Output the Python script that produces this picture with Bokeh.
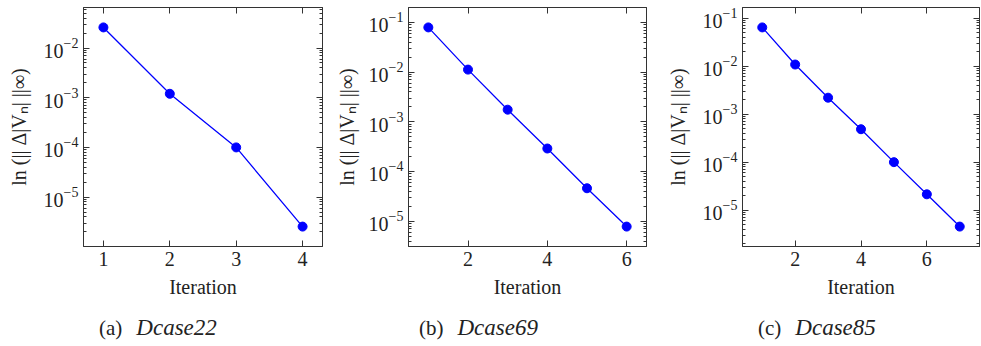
import numpy as np
from bokeh.plotting import figure
from bokeh.layouts import row, column
from bokeh.models import (Range1d, FixedTicker, LinearAxis, Div,
                          CustomJSTickFormatter)
from bokeh.embed import file_html
from bokeh.resources import INLINE

# ---- data ----
iters_a = [1, 2, 3, 4]
vals_a = [2.6e-2, 1.2e-3, 1.0e-4, 2.55e-6]

iters_b = [1, 2, 3, 4, 5, 6]
vals_b = [7.9e-2, 1.12e-2, 1.75e-3, 2.9e-4, 4.6e-5, 7.8e-6]

iters_c = [1, 2, 3, 4, 5, 6, 7]
vals_c = [6.4e-2, 1.08e-2, 2.2e-3, 4.85e-4, 1.0e-4, 2.14e-5, 4.55e-6]

xticks_a = [1, 2, 3, 4]
xticks_b = [2, 4, 6]
xticks_c = [2, 4, 6]

yticks_a = [1e-2, 1e-3, 1e-4, 1e-5]
yticks_b = [1e-1, 1e-2, 1e-3, 1e-4, 1e-5]
yticks_c = [1e-1, 1e-2, 1e-3, 1e-4, 1e-5]

captions_tag = ["(a)", "(b)", "(c)"]
captions_name = ["Dcase22", "Dcase69", "Dcase85"]

xlabel = "Iteration"
ylabel = "ln (|| Δ|Vₙ| ||∞)"

FONT = "Liberation Serif"
BLUE = "#0000ff"
EDGE = "#333333"
TXT = "#222222"
PLOT_H = 305
CAP_H = 346 - PLOT_H


def minor_log_ticks(lo_exp, hi_exp):
    out = []
    for k in range(int(np.floor(lo_exp)) - 1, int(np.ceil(hi_exp)) + 1):
        for m in range(2, 10):
            out.append(m * 10.0 ** k)
    return out


def make_panel(xs, ys, xticks, yticks, tag, name, width, bl, fw, ystand, cap_left):
    xs = np.asarray(xs, float)
    ly = np.log10(np.asarray(ys, float))
    xspan = xs.max() - xs.min()
    yspan = ly.max() - ly.min()
    x0, x1 = xs.min() - 0.1 * xspan, xs.max() + 0.1 * xspan
    y0, y1 = ly.min() - 0.1 * yspan, ly.max() + 0.1 * yspan

    fh = 239
    p = figure(width=width, height=PLOT_H, frame_width=fw, frame_height=fh,
               min_border_left=bl, min_border_right=width - bl - fw,
               min_border_top=7, min_border_bottom=PLOT_H - 7 - fh,
               y_axis_type="log",
               x_range=Range1d(x0, x1), y_range=Range1d(10 ** y0, 10 ** y1),
               output_backend="svg", toolbar_location=None)
    p.grid.visible = False
    p.outline_line_color = EDGE
    p.outline_line_width = 1
    p.background_fill_color = "white"
    p.border_fill_color = "white"

    xt = FixedTicker(ticks=xticks, minor_ticks=[])
    yt = FixedTicker(ticks=yticks, minor_ticks=minor_log_ticks(y0, y1))

    def style(ax, labels=True):
        ax.axis_line_color = EDGE
        ax.major_tick_line_color = EDGE
        ax.minor_tick_line_color = EDGE
        ax.major_tick_in = 6
        ax.major_tick_out = 0
        ax.minor_tick_in = 3
        ax.minor_tick_out = 0
        ax.major_label_text_font = FONT
        ax.major_label_text_color = TXT
        ax.axis_label_text_font = FONT
        ax.axis_label_text_font_style = "normal"
        ax.axis_label_text_color = TXT
        if not labels:
            ax.formatter = CustomJSTickFormatter(code="return ''")
            ax.major_label_text_font_size = "1px"
            ax.major_label_standoff = 0

    xa = p.xaxis[0]
    xa.ticker = xt
    style(xa)
    xa.major_label_text_font_size = "20px"
    xa.major_label_standoff = 5
    xa.axis_label = xlabel
    xa.axis_label_text_font_size = "20px"
    xa.axis_label_standoff = 7

    ya = p.yaxis[0]
    ya.ticker = yt
    style(ya)
    ya.major_label_text_font_size = "20px"
    ya.major_label_standoff = 5
    ya.axis_label = ylabel
    ya.axis_label_text_font_size = "20px"
    ya.axis_label_standoff = ystand

    top = LinearAxis(ticker=xt)
    style(top, labels=False)
    p.add_layout(top, "above")
    right = LinearAxis(ticker=yt)
    style(right, labels=False)
    p.add_layout(right, "right")

    p.line(xs, ys, line_color=BLUE, line_width=1.3)
    p.scatter(xs, ys, size=9, fill_color=BLUE, line_color=BLUE)

    html = (f'<div style="padding-left:{cap_left}px;padding-top:11px;'
            f'font-family:\'{FONT}\';font-size:21px;color:{TXT};'
            f'white-space:nowrap;line-height:24px;">{tag}'
            f'<i style="font-size:23px;margin-left:14px;">{name}</i></div>')
    cap = Div(text=html, width=width, height=CAP_H, margin=0)
    return column(p, cap, spacing=0)


pa = make_panel(iters_a, vals_a, xticks_a, yticks_a, captions_tag[0], captions_name[0],
                330, 83, 239, 11, 99)
pb = make_panel(iters_b, vals_b, xticks_b, yticks_b, captions_tag[1], captions_name[1],
                330, 78, 238, 8, 89)
pc = make_panel(iters_c, vals_c, xticks_c, yticks_c, captions_tag[2], captions_name[2],
                321, 82, 237, 11, 98)

layout = row(pa, pb, pc, spacing=0)
open("out.html", "w").write(file_html(layout, INLINE))
